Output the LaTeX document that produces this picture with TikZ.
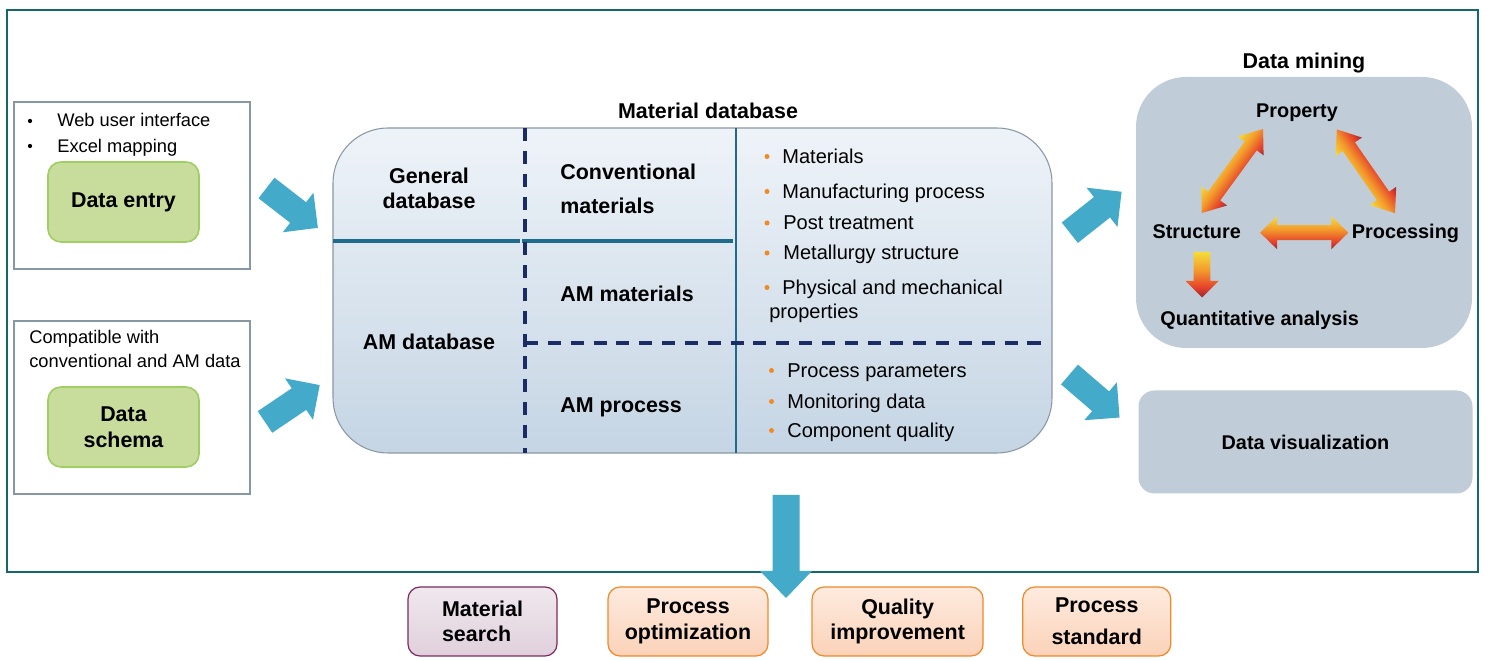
\documentclass[tikz,border=0pt]{standalone}
\usepackage{fontspec}
\setmainfont{Liberation Sans}
\usetikzlibrary{calc}

\definecolor{frameteal}{HTML}{15676C}
\definecolor{flowblue}{HTML}{43AACA}
\definecolor{panelgray}{HTML}{8797A3}
\definecolor{greenfill}{HTML}{C8DC9C}
\definecolor{greenline}{HTML}{9FCE63}
\definecolor{dbtop}{HTML}{EEF3F8}
\definecolor{dbbottom}{HTML}{C5D5E4}
\definecolor{dbline}{HTML}{8A98A4}
\definecolor{navy}{HTML}{1B2B63}
\definecolor{divteal}{HTML}{1F6B8E}
\definecolor{dotorange}{HTML}{F08A24}
\definecolor{minefill}{HTML}{C0CDD8}
\definecolor{hotyellow}{HTML}{F5DC3A}
\definecolor{hotorange}{HTML}{F39A2C}
\definecolor{hotred}{HTML}{E5402B}
\definecolor{hotdark}{HTML}{962B2E}
\definecolor{searchline}{HTML}{7D2A62}
\definecolor{searchtop}{HTML}{F0E8EE}
\definecolor{searchbottom}{HTML}{E0D0DC}
\definecolor{outline}{HTML}{F0892A}
\definecolor{outtop}{HTML}{FEEBDF}
\definecolor{outbottom}{HTML}{FBD2B8}

% yellow-to-red heat gradient, darkest at the bottom
\pgfdeclareverticalshading{heatshade}{100bp}{
  color(0bp)=(hotdark); color(25bp)=(hotdark); color(36bp)=(hotred);
  color(55bp)=(hotorange); color(75bp)=(hotyellow); color(100bp)=(hotyellow)}

\newcommand\px{0.02cm}
\newcommand\fBold{\fontsize{12.2}{14.5}\selectfont\bfseries}
\newcommand\fWide{\fontsize{12.2}{18.1}\selectfont\bfseries}
\newcommand\fList{\fontsize{11.4}{13.7}\selectfont}
\newcommand\fSmall{\fontsize{10.4}{12.5}\selectfont}
\newcommand\fMine{\fontsize{11.3}{13.5}\selectfont\bfseries}

% block arrow: options, tail point, angle, length, shaft half width, head half width, head length
\newcommand\BlockArrow[7]{%
  \begin{scope}[shift={#2}, rotate=#3]
    \path[#1] (0,-#5) -- ({#4-#7},-#5) -- ({#4-#7},-#6) -- (#4,0)
      -- ({#4-#7},#6) -- ({#4-#7},#5) -- (0,#5) -- cycle;
  \end{scope}}

% double-headed shaded arrow: options, centre, angle, length, shaft half width, head half width, head length
\newcommand\HeatArrow[7]{%
  \begin{scope}[transform canvas={shift={#2}, rotate=#3}]
    \path[#1] ({-#4/2},0) -- ({-#4/2+#7},-#6) -- ({-#4/2+#7},-#5) -- ({#4/2-#7},-#5)
      -- ({#4/2-#7},-#6) -- ({#4/2},0) -- ({#4/2-#7},#6) -- ({#4/2-#7},#5)
      -- ({-#4/2+#7},#5) -- ({-#4/2+#7},#6) -- cycle;
  \end{scope}}

\tikzset{
  panel/.style={draw=panelgray, line width=1.4pt, fill=white, inner sep=0},
  greenbox/.style={draw=greenline, line width=0.9pt, fill=greenfill, rounded corners=0.26cm,
    minimum width=151*\px, minimum height=80*\px, align=center, font=\fBold, inner sep=0},
  dbbox/.style={draw=dbline, line width=0.6pt, top color=dbtop, bottom color=dbbottom,
    rounded corners=1.1cm, inner sep=0},
  minebox/.style={fill=minefill, rounded corners=1.0cm, inner sep=0},
  txt/.style={inner sep=0, anchor=base west},
  ctxt/.style={inner sep=0, anchor=base},
  dot/.style={circle, fill=black, inner sep=0, minimum size=0.085cm},
  odot/.style={circle, fill=dotorange, inner sep=0, minimum size=0.1cm},
  divline/.style={draw=divteal, line width=1.9pt},
  navydash/.style={draw=navy, line width=2pt, dash pattern=on 7.4pt off 5.6pt},
  searchbox/.style={draw=searchline, line width=0.7pt, top color=searchtop, bottom color=searchbottom,
    rounded corners=0.24cm, minimum height=69*\px, align=left, font=\fBold, inner sep=0},
  outbox/.style={draw=outline, line width=0.7pt, top color=outtop, bottom color=outbottom,
    rounded corners=0.24cm, minimum height=69*\px, align=center, font=\fBold, inner sep=0},
  heat/.style={shading=heatshade},
  flow/.style={fill=flowblue}
}

\begin{document}
\begin{tikzpicture}[x=0.02cm, y=-0.02cm]
\useasboundingbox (0,0) rectangle (1491,661);
\fill[white] (0,0) rectangle (1491,661);

% outer frame
\node[draw=frameteal, line width=1.4pt, minimum width=1471*\px, minimum height=562*\px, inner sep=0] (frame) at (742.5,291) {};

% input panels
\node[panel, minimum width=236*\px, minimum height=167*\px] (entrypanel) at (132,185.5) {};
\node[dot] (d1) at (30,121) {};
\node[txt, font=\fSmall] (t1) at (57,127) {Web user interface};
\node[dot] (d2) at (30,146) {};
\node[txt, font=\fSmall] (t2) at (57,152.5) {Excel mapping};
\node[greenbox] (entry) at (123.5,202) {Data entry};

\node[panel, minimum width=236*\px, minimum height=173*\px] (schemapanel) at (132,407.5) {};
\node[txt, font=\fSmall] (c1) at (29,343.3) {Compatible with};
\node[txt, font=\fSmall] (c2) at (29,367.7) {conventional and AM data};
\node[greenbox] (schema) at (123.5,427) {Data\\schema};

% material database
\node[ctxt, font=\fBold] (dbtitle) at (708,118.3) {Material database};
\node[dbbox, minimum width=719*\px, minimum height=325*\px] (db) at (692.5,290.5) {};
\draw[divline] (333,241) -- (519.5,241);
\draw[divline] (522,241) -- (733,241);
\draw[divline, line width=1.6pt] (736,128) -- (736,453);
\draw[navydash] (525,128) -- (525,453);
\draw[navydash] (525,343) -- (1050,343);

\node[ctxt, font=\fBold] (gd1) at (429,183.3) {General};
\node[ctxt, font=\fBold] (gd2) at (429,208.3) {database};
\node[txt, font=\fBold] (cm1) at (560,180) {Conventional};
\node[txt, font=\fBold] (cm2) at (560,213.3) {materials};
\node[txt, font=\fBold] (amm) at (560,301.7) {AM materials};
\node[ctxt, font=\fBold] (amd) at (429,350) {AM database};
\node[txt, font=\fBold] (amp) at (560,413) {AM process};

\node[odot] (o1) at (767,156.5) {};
\node[txt, font=\fList] (l1) at (782,163.3) {Materials};
\node[odot] (o2) at (767,191.5) {};
\node[txt, font=\fList] (l2) at (782,198.3) {Manufacturing process};
\node[odot] (o3) at (767,223) {};
\node[txt, font=\fList] (l3) at (783,230) {Post treatment};
\node[odot] (o4) at (767,253) {};
\node[txt, font=\fList] (l4) at (783,260) {Metallurgy structure};
\node[odot] (o5) at (767,287.5) {};
\node[txt, font=\fList] (l5) at (782,294.3) {Physical and mechanical};
\node[txt, font=\fList] (l6) at (769,318.3) {properties};
\node[odot] (o6) at (771.5,370.5) {};
\node[txt, font=\fList] (l7) at (787,377.3) {Process parameters};
\node[odot] (o7) at (771.5,401.5) {};
\node[txt, font=\fList] (l8) at (787,408.3) {Monitoring data};
\node[odot] (o8) at (771.5,430.5) {};
\node[txt, font=\fList] (l9) at (787,437.3) {Component quality};

% data mining
\node[ctxt, font=\fBold] (mtitle) at (1304,68.3) {Data mining};
\node[minebox, minimum width=336*\px, minimum height=271*\px] (mine) at (1304,212.5) {};
\node[ctxt, font=\fMine] (prop) at (1297,117.3) {Property};
\node[ctxt, font=\fMine] (struct) at (1196.7,238.3) {Structure};
\node[ctxt, font=\fMine] (proc) at (1405.5,238.3) {Processing};
\node[ctxt, font=\fMine] (quant) at (1259.7,326) {Quantitative analysis};

\HeatArrow{heat}{(1232.4,171)}{53.9}{104}{7.5}{16}{21}
\HeatArrow{heat}{(1365.9,171.3)}{124.8}{102}{7.5}{16}{21}
\HeatArrow{heat}{(1304.2,232.7)}{0}{88.3}{7.5}{16.5}{17}
\path[heat]
  (1193.7,252) -- (1210.3,252) -- (1210.3,281) -- (1218.5,281) -- (1202,297.5)
  -- (1185.5,281) -- (1193.7,281) -- cycle;

% data visualization
\node[minebox, rounded corners=0.32cm, minimum width=334*\px, minimum height=103*\px, font=\fMine] (viz) at (1305.5,442) {Data visualization};

% flow arrows
\BlockArrow{flow}{(266.5,188)}{-37.8}{65}{13}{25}{25}
\BlockArrow{flow}{(265,422)}{34}{66}{13}{25}{25}
\BlockArrow{flow}{(1069.8,232.7)}{38.3}{66}{13}{25}{25}
\BlockArrow{flow}{(1069.5,374.5)}{-40.7}{66}{13}{25}{25}
\BlockArrow{flow}{(786,495)}{-90}{103}{13.5}{26}{27}

% outcomes
\node[searchbox, minimum width=149*\px] (search) at (482.5,621.5) {Material\\search};
\node[outbox, minimum width=160*\px] (optim) at (688,621.5) {Process\\optimization};
\node[outbox, minimum width=171*\px] (quality) at (897.6,621.5) {Quality\\improvement};
\node[outbox, minimum width=148*\px, font=\fWide] (standard) at (1096.8,621.5) {Process\\standard};
\end{tikzpicture}
\end{document}
